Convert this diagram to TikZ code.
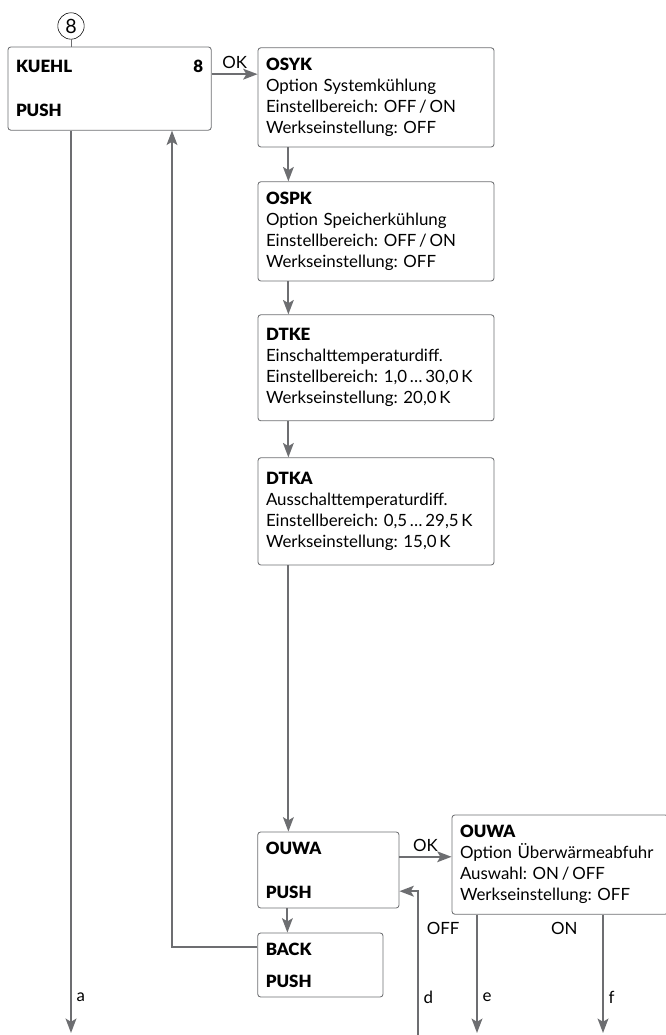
\documentclass[tikz,border=0pt]{standalone}
\usepackage{fontspec}
\setmainfont{Lato}[BoldFont={Lato Black}]
\usepackage{xcolor}
\usetikzlibrary{positioning,arrows.meta}
\definecolor{linegray}{HTML}{6D6E71}
\frenchspacing

\begin{document}
\begin{tikzpicture}[
  box/.style={draw=linegray, line width=0.6pt, rounded corners=2pt, inner xsep=0.2cm, align=left, font={\fontsize{12}{14.9}\selectfont}},
  arr/.style={-{Stealth[length=0.36cm, width=0.27cm, inset=0.08cm]}, draw=linegray, line width=1.3pt},
  lbl/.style={font={\fontsize{12}{14.9}\selectfont}},
]
\useasboundingbox (0,0) rectangle (16.625,25.875);

\node[draw, circle, minimum size=0.66cm, inner sep=0pt, font={\fontsize{14}{16}\selectfont}] (c8) at (1.775,25.225) {8};

\node[box, text width=4.68cm, minimum height=2.08cm] (kuehl) at (2.74,23.66) {\textbf{KUEHL}\hfill\textbf{8}\hspace*{0.25cm}\\[0.58cm]\textbf{PUSH}};

\node[box, text width=5.5cm, minimum height=2.48cm] (osyk) at (9.4,23.44) {\textbf{OSYK}\\Option Systemkühlung\\Einstellbereich: OFF\,/\,ON\\Werkseinstellung: OFF};
\node[box, text width=5.5cm, minimum height=2.48cm] (ospk) at (9.4,20.09) {\textbf{OSPK}\\Option Speicherkühlung\\Einstellbereich: OFF\,/\,ON\\Werkseinstellung: OFF};
\node[box, text width=5.5cm, minimum height=2.65cm] (dtke) at (9.4,16.68) {\textbf{DTKE}\\Einschalttemperaturdiff.\\Einstellbereich: 1,0\,…\,30,0\,K\\Werkseinstellung: 20,0\,K};
\node[box, text width=5.5cm, minimum height=2.68cm] (dtka) at (9.4,13.09) {\textbf{DTKA}\\Ausschalttemperaturdiff.\\Einstellbereich: 0,5\,…\,29,5\,K\\Werkseinstellung: 15,0\,K};

\node[box, text width=3.13cm, minimum height=1.9cm] (ouwa) at (8.21,4.125) {\textbf{OUWA}\\[0.58cm]\textbf{PUSH}};
\node[box, text width=5.0cm, minimum height=2.48cm] (ouwaopt) at (14.0,4.26) {\textbf{OUWA}\\Option Überwärmeabfuhr\\Auswahl: ON\,/\,OFF\\Werkseinstellung: OFF};
\node[box, text width=2.73cm, minimum height=1.6cm] (back) at (8.01,1.75) {\textbf{BACK}\\[0.28cm]\textbf{PUSH}};

\coordinate (enda) at (1.775,0.05);
\coordinate (endd) at (10.45,0);
\coordinate (ende) at (11.925,0.05);
\coordinate (endf) at (15.075,0.05);

\draw[linegray, line width=0.6pt] (c8.south) -- (c8.south |- kuehl.north);
\draw[arr] ([yshift=0.36cm]kuehl.east) -- ([yshift=0.36cm]kuehl.east -| osyk.west) node[midway, above, lbl] {OK};
\draw[arr] ([xshift=0.77cm]osyk.south west) -- ([xshift=0.77cm]ospk.north west);
\draw[arr] ([xshift=0.77cm]ospk.south west) -- ([xshift=0.77cm]dtke.north west);
\draw[arr] ([xshift=0.77cm]dtke.south west) -- ([xshift=0.77cm]dtka.north west);
\draw[arr] ([xshift=0.77cm]dtka.south west) -- ([xshift=0.77cm]dtka.south west |- ouwa.north);
\draw[arr] ([yshift=0.33cm]ouwa.east) -- ([yshift=0.33cm]ouwa.east -| ouwaopt.west) node[midway, above, lbl] {OK};
\draw[arr] ([xshift=0.75cm]ouwa.south west) -- ([xshift=0.75cm]ouwa.south west |- back.north);
\draw[arr] ([yshift=0.45cm]back.west) -| ([xshift=1.56cm]kuehl.south);

\draw[arr] (enda |- kuehl.south) -- (enda) node[pos=0.96, right, lbl] {a};
\draw[arr] (endd) |- ([yshift=-0.53cm]ouwa.east) node[pos=0.13, right, lbl] {d};
\draw[arr] (ende |- ouwaopt.south) -- (ende) node[pos=0.12, left=0.3cm, lbl] {OFF} node[pos=0.7, right, lbl] {e};
\draw[arr] (endf |- ouwaopt.south) -- (endf) node[pos=0.12, left=0.5cm, lbl] {ON} node[pos=0.7, right, lbl] {f};
\end{tikzpicture}
\end{document}
